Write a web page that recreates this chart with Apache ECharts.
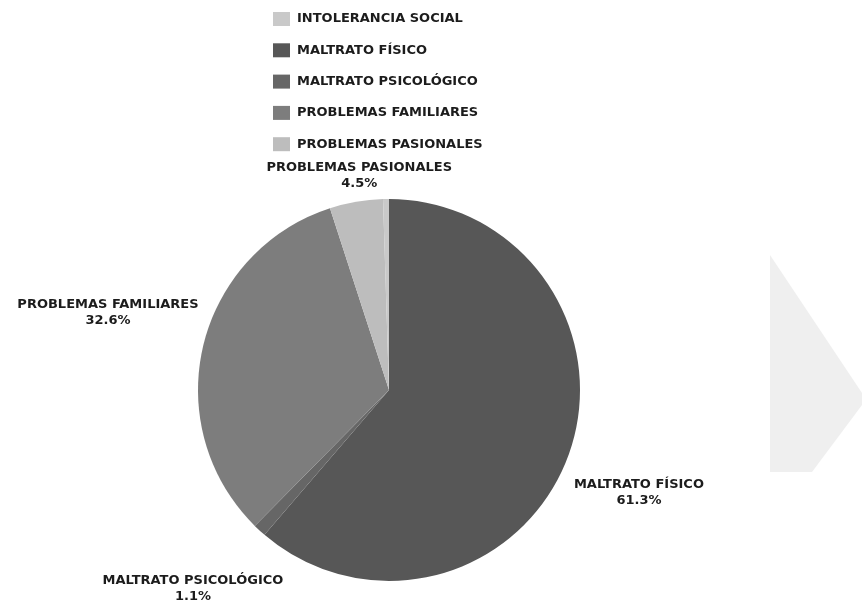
<!DOCTYPE html>
<html>
<head>
<meta charset="utf-8">
<script src="https://cdn.jsdelivr.net/npm/echarts@6/dist/echarts.min.js"></script>
<style>
  html, body { margin: 0; padding: 0; background: #ffffff; }
  #chart { width: 863px; height: 605px; }
</style>
</head>
<body>
<div id="chart"></div>
<script>
// Slice order follows the pie clockwise from 12 o'clock
const categories = ['MALTRATO FÍSICO', 'MALTRATO PSICOLÓGICO', 'PROBLEMAS FAMILIARES', 'PROBLEMAS PASIONALES', 'INTOLERANCIA SOCIAL'];
const shares = [61.3, 1.1, 32.6, 4.5, 0.5];
// Legend lists the causes alphabetically
const legendOrder = ['INTOLERANCIA SOCIAL', 'MALTRATO FÍSICO', 'MALTRATO PSICOLÓGICO', 'PROBLEMAS FAMILIARES', 'PROBLEMAS PASIONALES'];

const sliceColors = {
  'MALTRATO FÍSICO': '#575757',
  'MALTRATO PSICOLÓGICO': '#666666',
  'PROBLEMAS FAMILIARES': '#7d7d7d',
  'PROBLEMAS PASIONALES': '#bdbdbd',
  'INTOLERANCIA SOCIAL': '#c9c9c9'
};

const CENTER = [389, 390];
const RADIUS = 191;
const LABEL_GAP = 13;
const LABEL_TURN = 2 * Math.PI / 180;   // labels sit a touch clockwise of the slice middle
const FONT = '"DejaVu Sans", sans-serif';

const total = shares.reduce((a, b) => a + b, 0);
function midAngle(i) {
  let before = 0;
  for (let k = 0; k < i; k++) before += shares[k];
  return (before + shares[i] / 2) / total * Math.PI * 2;
}

const chart = echarts.init(document.getElementById('chart'), null, { renderer: 'canvas' });

chart.setOption({
  animation: false,
  backgroundColor: '#ffffff',
  legend: {
    orient: 'vertical',
    left: 268,
    top: 7,
    data: legendOrder,
    icon: 'rect',
    itemWidth: 17,
    itemHeight: 14,
    itemGap: 17.3,
    selectedMode: false,
    textStyle: {
      fontFamily: FONT,
      fontWeight: 'bold',
      fontSize: 13,
      lineHeight: 14,
      color: '#1c1c1c',
      padding: [0, 0, 0, 2]
    }
  },
  series: [{
    type: 'pie',
    center: CENTER,
    radius: RADIUS,
    startAngle: 90,
    clockwise: true,
    avoidLabelOverlap: false,
    percentPrecision: 1,
    label: {
      show: true,
      position: 'outside',
      formatter: '{b}\n{d}%',
      fontFamily: FONT,
      fontWeight: 'bold',
      fontSize: 13,
      lineHeight: 16,
      color: '#1c1c1c'
    },
    labelLine: { show: false },
    labelLayout: function (p) {
      const a = midAngle(p.dataIndex) + LABEL_TURN;
      const dx = Math.sin(a), dy = -Math.cos(a);
      const w = p.labelRect.width, h = p.labelRect.height;
      // keep the label box clear of the rim: width always counts, height only below the centre
      const d = RADIUS + LABEL_GAP + Math.abs(dx) * w / 2 + Math.max(dy, 0) * h / 2;
      return {
        x: CENTER[0] + dx * d,
        y: CENTER[1] + dy * d,
        align: 'center',
        verticalAlign: 'middle'
      };
    },
    itemStyle: { borderWidth: 0 },
    emphasis: { disabled: true },
    data: categories.map((name, i) => ({
      name: name,
      value: shares[i],
      itemStyle: { color: sliceColors[name] },
      label: { show: shares[i] >= 1 }
    }))
  }],
  graphic: [{
    type: 'polygon',
    silent: true,
    z: -1,
    shape: { points: [[770, 255], [862, 393], [862, 405], [812, 472], [770, 472]] },
    style: { fill: '#efefef' }
  }]
});
</script>
</body>
</html>
